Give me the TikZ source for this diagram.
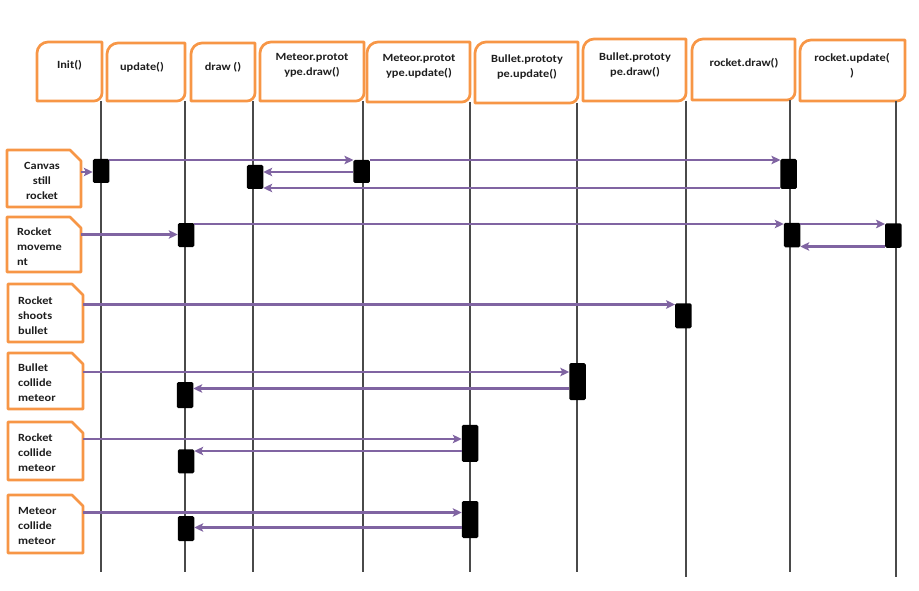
\documentclass[tikz,border=0pt]{standalone}
\usepackage{fontspec}
\setmainfont{Carlito}[FakeStretch=1.12]
\usetikzlibrary{arrows.meta,calc}
\definecolor{orng}{HTML}{F79646}
\definecolor{purp}{HTML}{8064A2}
\definecolor{lgray}{HTML}{4A4A4A}
\definecolor{txt}{HTML}{1E1E1E}

\tikzset{
  hdrbox/.style={draw=none, inner sep=0pt, outer sep=0pt},
  hdrline/.style={draw=orng, line width=2.7pt, line join=round},
  htext/.style={font=\bfseries\fontsize{11}{15}\selectfont, text=txt, align=center, inner sep=0pt},
  ntext/.style={font=\bfseries\fontsize{11}{15}\selectfont, text=txt, inner sep=0pt},
  life/.style={draw=lgray, line width=1.5pt},
  bar/.style={fill=black, rounded corners=1.5pt, minimum width=16.5pt, inner sep=0pt, outer sep=0pt},
  msg/.style={draw=purp, line width=2.6pt, -{Stealth[length=9pt,width=8.5pt,inset=2pt]}},
}

\newcommand\mkbox[5]{%
  \node[hdrbox, minimum width={(#4-#2)*1pt}, minimum height={(#5-#3)*1pt}] (#1) at ({(#2+#4)/2},{(#3+#5)/2}) {};}

\newcommand\hdroutline[1]{%
  \draw[hdrline] (#1.south west) -- ([yshift=-11pt]#1.north west)
    .. controls ([yshift=-5pt]#1.north west) and ([xshift=5pt]#1.north west) .. ([xshift=11pt]#1.north west)
    -- (#1.north east) -- ([yshift=8pt]#1.south east)
    .. controls ([yshift=3.6pt]#1.south east) and ([xshift=-3.6pt]#1.south east) .. ([xshift=-8pt]#1.south east)
    -- cycle;}

\newcommand\noteoutline[1]{%
  \draw[hdrline] (#1.south west) -- (#1.north west) -- ([xshift=-11pt]#1.north east)
    -- ([yshift=-11pt]#1.north east) -- (#1.south east) -- cycle;}

\begin{document}
\begin{tikzpicture}[x=1pt,y=-1pt]
\useasboundingbox (0,0) rectangle (919,591);

% header boxes
\mkbox{h1}{37}{42}{102}{101}
\mkbox{h2}{107}{43}{185}{101}
\mkbox{h3}{191}{43}{255}{101}
\mkbox{h4}{260}{42}{364}{101}
\mkbox{h5}{367}{42}{470}{102}
\mkbox{h6}{475}{42}{578}{103}
\mkbox{h7}{583}{39}{686}{101}
\mkbox{h8}{692}{39}{795}{100}
\mkbox{h9}{800}{40}{905}{101}
\foreach \h in {h1,h2,h3,h4,h5,h6,h7,h8,h9} {\hdroutline{\h}}

\node[htext] (t1) at (69.5,65) {Init()};
\node[htext] (t2) at (142,67) {update()};
\node[htext] (t3) at (223,67) {draw ()};
\node[htext] (t4) at (312,65.5) {Meteor.protot\\ype.draw()};
\node[htext] (t5) at (419,66.5) {Meteor.protot\\ype.update()};
\node[htext] (t6) at (527,67) {Bullet.prototy\\pe.update()};
\node[htext] (t7) at (635,65) {Bullet.prototy\\pe.draw()};
\node[htext] (t8) at (744,63) {rocket.draw()};
\node[htext] (t9) at (852,65.5) {rocket.update(\\)};

% lifelines
\coordinate (l1) at (101,572);
\coordinate (l2) at (185,572);
\coordinate (l3) at (253,572);
\coordinate (l4) at (363,572);
\coordinate (l5) at (470,572);
\coordinate (l6) at (577,572);
\coordinate (l7) at (686,577);
\coordinate (l8) at (790,572);
\coordinate (l9) at (896,577);
\foreach \i in {1,...,9} {\draw[life] (h\i.south -| l\i) -- (l\i);}

% note boxes
\mkbox{n1}{7}{150}{81}{207}
\mkbox{n2}{7}{217}{81}{272}
\mkbox{n3}{8}{284}{83}{342}
\mkbox{n4}{8}{353}{83}{409}
\mkbox{n5}{8}{422}{83}{480}
\mkbox{n6}{8}{495}{83}{553}
\foreach \n in {n1,n2,n3,n4,n5,n6} {\noteoutline{\n}}

\node[ntext, align=center] (n1t) at (42,181) {Canvas\\still\\rocket};
\node[ntext, align=left, anchor=west] (n2t) at (17,247) {Rocket\\moveme\\nt};
\node[ntext, align=left, anchor=west] (n3t) at (18,316) {Rocket\\shoots\\bullet};
\node[ntext, align=left, anchor=west] (n4t) at (18,383) {Bullet\\collide\\meteor};
\node[ntext, align=left, anchor=west] (n5t) at (18,452.5) {Rocket\\collide\\meteor};
\node[ntext, align=left, anchor=west] (n6t) at (18,526) {Meteor\\collide\\meteor};

% activation bars
\node[bar, minimum height=24pt] (b1) at (101,171) {};
\node[bar, minimum height=24pt] (b2) at (255,177) {};
\node[bar, minimum height=23pt] (b3) at (361.7,171.5) {};
\node[bar, minimum height=30pt] (b4) at (788.7,174) {};
\node[bar, minimum height=24pt] (b5) at (186,235) {};
\node[bar, minimum height=24.5pt] (b6) at (792,235) {};
\node[bar, minimum height=24.5pt] (b7) at (893.3,235.5) {};
\node[bar, minimum height=25pt] (b8) at (683.3,315.8) {};
\node[bar, minimum height=37pt] (b9) at (577.5,381.6) {};
\node[bar, minimum height=26pt] (b10) at (185,395) {};
\node[bar, minimum height=37pt] (b11) at (470,443.4) {};
\node[bar, minimum height=24pt] (b12) at (186,461.3) {};
\node[bar, minimum height=37pt] (b13) at (470,519.5) {};
\node[bar, minimum height=25pt] (b14) at (186,528.5) {};

% message rows
\coordinate (ya) at (0,172);
\coordinate (yb) at (0,160);
\coordinate (yc) at (0,172);
\coordinate (ye) at (0,188);
\coordinate (yf) at (0,234.5);
\coordinate (yg) at (0,224);
\coordinate (yi) at (0,246.5);
\coordinate (yj) at (0,304.5);
\coordinate (yk) at (0,372);
\coordinate (yl) at (0,388.5);
\coordinate (ym) at (0,439);
\coordinate (yn) at (0,451);
\coordinate (yo) at (0,512.5);
\coordinate (yp) at (0,527.5);

\draw[msg] (n1.east |- ya) -- (b1.west |- ya);
\draw[msg] (b1.east |- yb) -- (b3.west |- yb);
\draw[msg] (b3.west |- yc) -- (b2.east |- yc);
\draw[msg] (b3.east |- yb) -- (b4.west |- yb);
\draw[msg] (b4.west |- ye) -- (b2.east |- ye);
\draw[msg] (n2.east |- yf) -- (b5.west |- yf);
\draw[msg] (b5.east |- yg) -- (b6.west |- yg);
\draw[msg] (b6.east |- yg) -- (b7.west |- yg);
\draw[msg] (b7.west |- yi) -- (b6.east |- yi);
\draw[msg] (n3.east |- yj) -- (b8.west |- yj);
\draw[msg] (n4.east |- yk) -- (b9.west |- yk);
\draw[msg] (b9.west |- yl) -- (b10.east |- yl);
\draw[msg] (n5.east |- ym) -- (b11.west |- ym);
\draw[msg] (b11.west |- yn) -- (b12.east |- yn);
\draw[msg] (n6.east |- yo) -- (b13.west |- yo);
\draw[msg] (b13.west |- yp) -- (b14.east |- yp);
\end{tikzpicture}
\end{document}
